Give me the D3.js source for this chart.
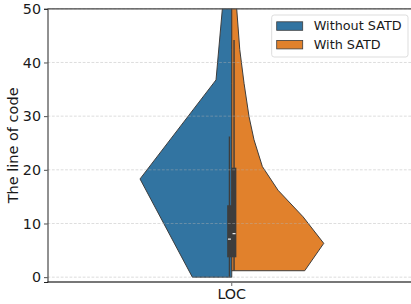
<!DOCTYPE html>
<html>
<head>
<meta charset="utf-8">
<script src="https://cdn.jsdelivr.net/npm/d3@7"></script>
<style>
  body { margin: 0; background: #fff; }
  text { font-family: "DejaVu Sans", sans-serif; fill: #1a1a1a; }
</style>
</head>
<body>
<svg width="411" height="304"></svg>
<script>
var svg = d3.select("svg"),
    width = +svg.attr("width"),
    height = +svg.attr("height");

// data
var categories = ["LOC"];
var series = ["Without SATD", "With SATD"];
var colors = ["#3274a1", "#e1812c"];
var yTicks = [0, 10, 20, 30, 40, 50];

// violin outline: value -> relative density (half-width)
var withoutVals = [0, 18.3, 36.75, 55];
var withoutDens = [0.428, 0.997, 0.171, 0.076];
var withVals = [1.2, 6.3, 11.25, 16.2, 20.6, 25.6, 29.9, 36.1, 42.4, 50, 56];
var withDens = [0.793, 1.0, 0.775, 0.503, 0.333, 0.242, 0.188, 0.134, 0.087, 0.054, 0.04];

// box stats: [whiskerLow, q1, median, q3, whiskerHigh]
var withoutBox = [0, 3.7, 7.1, 13.4, 26.2];
var withBox = [1.2, 3.7, 8.1, 20.4, 44.2];

var margin = {left: 47.5, right: 416, top: 8.8, bottom: 282};

var x = d3.scaleBand().domain(categories).range([margin.left, margin.right]);
var y = d3.scaleLinear().domain([-0.9, 50]).range([margin.bottom, margin.top]);
var w = d3.scaleLinear().domain([0, 1]).range([0, 92]);

var cx = x("LOC") + x.bandwidth() / 2;

svg.append("defs").append("clipPath").attr("id", "plot")
  .append("rect")
    .attr("x", margin.left).attr("y", margin.top)
    .attr("width", margin.right - margin.left)
    .attr("height", margin.bottom - margin.top);

var plot = svg.append("g").attr("clip-path", "url(#plot)");

//violins
function half(vals, dens, side) {
  var pts = vals.map(function(v, i) { return {v: v, d: dens[i]}; });
  return d3.area()
    .y(function(d) { return y(d.v); })
    .x0(function(d) { return cx; })
    .x1(function(d) { return cx + side * w(d.d); })(pts);
}

plot.append("path")
  .attr("d", half(withoutVals, withoutDens, -1))
  .attr("fill", colors[0])
  .attr("stroke", "#3d3d3d").attr("stroke-width", 1);

plot.append("path")
  .attr("d", half(withVals, withDens, 1))
  .attr("fill", colors[1])
  .attr("stroke", "#3d3d3d").attr("stroke-width", 1);

//inner boxes
function box(stats, side) {
  var bw = 4.6;
  var x0 = side < 0 ? cx - bw : cx;
  var wx = x0 + bw / 2;
  plot.append("line")
    .attr("x1", wx).attr("x2", wx)
    .attr("y1", y(stats[0])).attr("y2", y(stats[4]))
    .attr("stroke", "#3d3d3d").attr("stroke-width", 1.4);
  plot.append("rect")
    .attr("x", x0).attr("width", bw)
    .attr("y", y(stats[3])).attr("height", y(stats[1]) - y(stats[3]))
    .attr("fill", "#3d3d3d");
  plot.append("line")
    .attr("x1", x0 + 0.8).attr("x2", x0 + bw - 0.8)
    .attr("y1", y(stats[2])).attr("y2", y(stats[2]))
    .attr("stroke", "#e8e8e8").attr("stroke-width", 1.3);
}
box(withoutBox, -1);
box(withBox, 1);

//grid
svg.append("g").selectAll("line")
  .data(yTicks)
  .enter().append("line")
    .attr("x1", margin.left).attr("x2", margin.right)
    .attr("y1", function(d) { return y(d); })
    .attr("y2", function(d) { return y(d); })
    .attr("stroke", "#b0b0b0")
    .attr("stroke-opacity", 0.55)
    .attr("stroke-width", 0.8)
    .attr("stroke-dasharray", "2.8,1.6");

//spines
svg.append("line")
  .attr("x1", margin.left).attr("x2", margin.right)
  .attr("y1", margin.top).attr("y2", margin.top)
  .attr("stroke", "#444").attr("stroke-width", 1.2);
svg.append("line")
  .attr("x1", margin.left).attr("x2", margin.right)
  .attr("y1", margin.bottom).attr("y2", margin.bottom)
  .attr("stroke", "#777").attr("stroke-width", 2);

//axes
var yAxis = svg.append("g")
  .attr("transform", "translate(" + margin.left + ",0)")
  .call(d3.axisLeft(y).tickValues(yTicks).tickSize(3.5).tickPadding(3));
yAxis.select(".domain").attr("stroke", "#222").attr("stroke-width", 1);
yAxis.selectAll(".tick line").attr("stroke", "#222").attr("stroke-width", 0.8);
yAxis.selectAll(".tick text")
  .style("font-family", "DejaVu Sans").style("font-size", "14.3px").attr("fill", "#1a1a1a");

var xAxis = svg.append("g")
  .attr("transform", "translate(0," + (margin.bottom + 1) + ")")
  .call(d3.axisBottom(x).tickSize(3).tickPadding(3));
xAxis.select(".domain").remove();
xAxis.selectAll(".tick line").attr("stroke", "#444").attr("stroke-width", 0.8);
xAxis.selectAll(".tick text")
  .style("font-family", "DejaVu Sans").style("font-size", "14.3px").attr("fill", "#1a1a1a");

svg.append("text")
  .attr("transform", "translate(18," + ((margin.top + margin.bottom) / 2) + ") rotate(-90)")
  .attr("text-anchor", "middle")
  .style("font-size", "14.5px")
  .text("The line of code");

//legend
var legend = svg.append("g").attr("transform", "translate(271.7,15)");
legend.append("rect")
  .attr("width", 136.3).attr("height", 42).attr("rx", 2.5)
  .attr("fill", "#fff").attr("fill-opacity", 0.85)
  .attr("stroke", "#d9d9d9").attr("stroke-width", 0.9);
var items = legend.selectAll("g.item")
  .data(series)
  .enter().append("g")
    .attr("class", "item")
    .attr("transform", function(d, i) { return "translate(5," + (6.8 + i * 18.6) + ")"; });
items.append("rect")
  .attr("width", 26).attr("height", 8.5)
  .attr("fill", function(d, i) { return colors[i]; })
  .attr("stroke", "#3d3d3d").attr("stroke-width", 0.8);
items.append("text")
  .attr("x", 37).attr("y", 8.5)
  .style("font-size", "12.8px")
  .text(function(d) { return d; });
</script>
</body>
</html>
